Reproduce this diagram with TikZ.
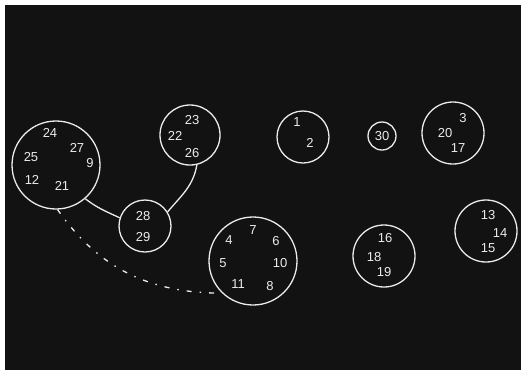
\documentclass[tikz,border=0pt]{standalone}
\usepackage{fontspec}
\setmainfont{Liberation Sans}

\begin{document}
\begin{tikzpicture}[
    x=1pt, y=1pt,
    plug/.style={circle, draw=white!92!black, line width=1.3pt, inner sep=0pt},
    pin/.style={text=white!92!black, font=\fontsize{13}{13}\selectfont, inner sep=0pt},
    wire/.style={draw=white!92!black, line width=1.3pt},
    trace/.style={draw=white!92!black, line width=1.3pt,
                  dash pattern=on 5pt off 8pt on 1.5pt off 8pt}
  ]
    \useasboundingbox (0,0) rectangle (521,-376);
    \fill[black!93] (5,-5) rectangle (521,-370);

    % connectors
    \node[plug, minimum size=88pt] (plugA) at (56,-165) {};
    \node[plug, minimum size=52pt] (plugB) at (145,-226) {};
    \node[plug, minimum size=60pt] (plugC) at (190,-135) {};
    \node[plug, minimum size=88pt] (plugD) at (253,-261) {};
    \node[plug, minimum size=52pt] (plugE) at (303,-137) {};
    \node[plug, minimum size=28pt] (plugF) at (382,-136) {};
    \node[plug, minimum size=62pt] (plugG) at (453,-133) {};
    \node[plug, minimum size=62pt] (plugH) at (384,-256) {};
    \node[plug, minimum size=62pt] (plugI) at (486,-231) {};

    % pins
    \node[pin] (p24) at (50,-133) {24};
    \node[pin] (p27) at (77,-148) {27};
    \node[pin] (p9)  at (90,-163) {9};
    \node[pin] (p25) at (31,-157) {25};
    \node[pin] (p12) at (32,-180) {12};
    \node[pin] (p21) at (62,-186) {21};

    \node[pin] (p28) at (143,-216) {28};
    \node[pin] (p29) at (143,-237) {29};

    \node[pin] (p23) at (192,-120) {23};
    \node[pin] (p22) at (175,-136) {22};
    \node[pin] (p26) at (192,-153) {26};

    \node[pin] (p7)  at (253,-230) {7};
    \node[pin] (p4)  at (229,-240) {4};
    \node[pin] (p6)  at (276,-241) {6};
    \node[pin] (p5)  at (223,-263) {5};
    \node[pin] (p10) at (280,-263) {10};
    \node[pin] (p11) at (238,-284) {11};
    \node[pin] (p8)  at (270,-286) {8};

    \node[pin] (p1)  at (297,-122) {1};
    \node[pin] (p2)  at (310,-143) {2};

    \node[pin] (p30) at (plugF) {30};

    \node[pin] (p3)  at (463,-118) {3};
    \node[pin] (p20) at (445,-133) {20};
    \node[pin] (p17) at (458,-148) {17};

    \node[pin] (p16) at (385,-238) {16};
    \node[pin] (p18) at (374,-257) {18};
    \node[pin] (p19) at (384,-272) {19};

    \node[pin] (p13) at (488,-215) {13};
    \node[pin] (p14) at (500,-233) {14};
    \node[pin] (p15) at (488,-248) {15};

    % cables
    \draw[wire] (plugA.-49) to[out=-38, in=155] (plugB.162);
    \draw[wire] (plugB.32) to[out=50, in=-100] (plugC.-77);
    \draw[trace] (plugA.-88) to[out=-55, in=180] (plugD.226);
\end{tikzpicture}
\end{document}
